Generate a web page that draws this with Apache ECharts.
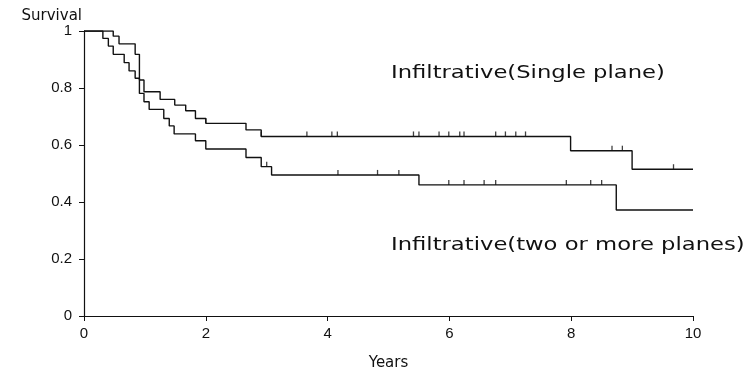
<!DOCTYPE html>
<html>
<head>
<meta charset="utf-8">
<script src="https://cdn.jsdelivr.net/npm/echarts@6/dist/echarts.min.js"></script>
<style>
  html, body { margin: 0; padding: 0; background: #fff; }
  #chart { width: 750px; height: 376px; }
</style>
</head>
<body>
<div id="chart"></div>
<script>
// Kaplan-Meier step points [years, survival]
const singlePlane = [
  [0, 1], [0.48, 0.982], [0.575, 0.955], [0.84, 0.918], [0.91, 0.828],
  [0.985, 0.787], [1.25, 0.76], [1.49, 0.74], [1.67, 0.72], [1.83, 0.693],
  [2.0, 0.676], [2.66, 0.653], [2.91, 0.63], [7.99, 0.58], [9.0, 0.515],
  [10, 0.515]
]
const multiPlane = [
  [0, 1], [0.31, 0.974], [0.40, 0.947], [0.48, 0.918], [0.66, 0.889],
  [0.74, 0.86], [0.84, 0.834], [0.91, 0.781], [0.985, 0.752], [1.07, 0.725],
  [1.31, 0.693], [1.40, 0.667], [1.48, 0.639], [1.83, 0.615], [2.0, 0.586],
  [2.66, 0.556], [2.91, 0.524], [3.08, 0.495], [5.50, 0.46], [8.74, 0.372],
  [10, 0.372]
]
// censored observation times
const singleCensor = [2.0, 2.91, 3.66, 4.07, 4.16, 5.41, 5.50, 5.83, 5.99, 6.17,
  6.24, 6.76, 6.92, 7.09, 7.25, 8.67, 8.84, 9.68]
const multiCensor = [3.0, 4.17, 4.82, 5.17, 5.99, 6.24, 6.57, 6.76, 7.92, 8.32, 8.50]

const xTicks = [0, 2, 4, 6, 8, 10]
const yTicks = [0, 0.2, 0.4, 0.6, 0.8, 1]
const labels = ["Infiltrative(Single plane)", "Infiltrative(two or more planes)"]

// survival level of a step curve at time t
function levelAt(curve, t) {
  let v = curve[0][1]
  for (const [x, y] of curve) { if (x <= t) v = y }
  return v
}

const chart = echarts.init(document.getElementById("chart"))
const black = "#111"
const lineSeries = (data) => ({
  type: "line", step: "end", data, showSymbol: false, symbol: "none",
  lineStyle: { color: black, width: 1.4 }, silent: true, z: 3
})
const tickSeries = (curve, times) => ({
  type: "scatter",
  data: times.map(t => [t, levelAt(curve, t)]),
  symbol: "rect", symbolSize: [1.3, 5], symbolOffset: [0, -2.5],
  itemStyle: { color: black }, silent: true, z: 4
})
const curveLabel = (text, y) => ({
  type: "text", x: 391, y, scaleX: 1.26, scaleY: 1,
  style: { text, fill: black, font: "18px 'DejaVu Sans'" }
})

chart.setOption({
  animation: false,
  backgroundColor: "#fff",
  textStyle: { fontFamily: "Liberation Sans, Arial, sans-serif" },
  grid: { left: 84, right: 57, top: 31, bottom: 60 },
  xAxis: {
    type: "value", min: 0, max: 10, interval: 2,
    name: "Years", nameLocation: "middle", nameGap: 40,
    nameTextStyle: { color: black, fontSize: 15, fontFamily: "DejaVu Sans" },
    axisLine: { lineStyle: { color: black, width: 1.2 } },
    axisTick: { length: 5, lineStyle: { color: black } },
    axisLabel: { color: black, fontSize: 15, margin: 10,
      formatter: v => xTicks.includes(v) ? String(v) : "" },
    splitLine: { show: false }
  },
  yAxis: {
    type: "value", min: 0, max: 1, interval: 0.2,
    name: "Survival", nameLocation: "end", nameGap: 7,
    nameTextStyle: { color: black, fontSize: 15, fontFamily: "DejaVu Sans",
      align: "right", padding: [0, 2, 0, 0] },
    axisLine: { show: true, lineStyle: { color: black, width: 1.2 } },
    axisTick: { show: true, length: 5, lineStyle: { color: black } },
    axisLabel: { color: black, fontSize: 15, margin: 12,
      formatter: v => { const r = Math.round(v * 10) / 10; return yTicks.includes(r) ? String(r) : "" } },
    splitLine: { show: false }
  },
  graphic: [curveLabel(labels[0], 64), curveLabel(labels[1], 236)],
  series: [
    lineSeries(singlePlane),
    lineSeries(multiPlane),
    tickSeries(singlePlane, singleCensor),
    tickSeries(multiPlane, multiCensor)
  ]
})
</script>
</body>
</html>
